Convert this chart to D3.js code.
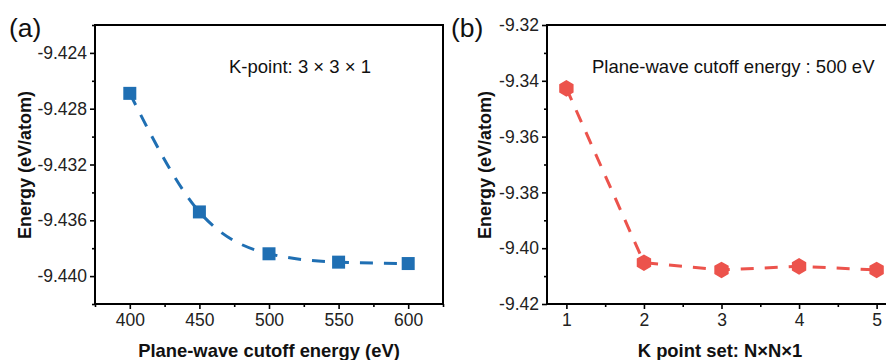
<!DOCTYPE html>
<html><head><meta charset="utf-8">
<script src="https://cdn.jsdelivr.net/npm/d3@7"></script>
<style>body{margin:0;background:#fff}svg{display:block;font-family:"Liberation Sans",Arial,sans-serif}</style>
</head><body><svg id="c" width="886" height="360"></svg>
<script>
// Panel (a)
const cutoffs = [400, 450, 500, 550, 600];
const energyA = [-9.4269, -9.4354, -9.4384, -9.4390, -9.4391];
const xTicksA = [400, 450, 500, 550, 600];
const yTicksA = [-9.424, -9.428, -9.432, -9.436, -9.440];
// Panel (b)
const kpoints = [1, 2, 3, 4, 5];
const energyB = [-9.3427, -9.4052, -9.4078, -9.4065, -9.4078];
const xTicksB = [1, 2, 3, 4, 5];
const yTicksB = [-9.32, -9.34, -9.36, -9.38, -9.40, -9.42];

const svg = d3.select("#c");
const blue = "#1f6fb3", red = "#ec534c";

function panel(o) {
  const g = svg.append("g");
  const x = d3.scaleLinear().domain(o.xd).range([o.left, o.right]);
  const y = d3.scaleLinear().domain(o.yd).range([o.bottom, o.top]);
  const fy = v => v.toFixed(o.dec).replace("\u2212", "-");
  const xMinor = d3.axisBottom(x).tickValues(o.xMinor).tickSize(3).tickFormat("");
  const yMinor = d3.axisLeft(y).tickValues(o.yMinor).tickSize(3).tickFormat("");
  g.append("g").attr("transform", `translate(0,${o.bottom})`).call(xMinor);
  g.append("g").attr("transform", `translate(${o.left},0)`).call(yMinor);
  const xa = d3.axisBottom(x).tickValues(o.xTicks).tickSize(5).tickPadding(5).tickFormat(d3.format("d"));
  const ya = d3.axisLeft(y).tickValues(o.yTicks).tickSize(5).tickPadding(3).tickFormat(fy);
  g.append("g").attr("transform", `translate(0,${o.bottom})`).call(xa);
  g.append("g").attr("transform", `translate(${o.left},0)`).call(ya);
  g.selectAll(".domain").remove();
  g.selectAll(".tick line").attr("stroke", "#000").attr("stroke-width", 1.6);
  g.selectAll(".tick text").attr("font-size", 17.5).attr("fill", "#222")
    .attr("font-family", '"Liberation Sans",Arial,sans-serif');
  g.append("rect").attr("x", o.left).attr("y", o.top)
    .attr("width", o.right - o.left).attr("height", o.bottom - o.top)
    .attr("fill", "none").attr("stroke", "#000").attr("stroke-width", 2);
  const line = d3.line().x(d => x(d[0])).y(d => y(d[1])).curve(o.curve);
  const pts = o.xs.map((v, i) => [v, o.ys[i]]);
  g.append("path").attr("d", line(pts)).attr("fill", "none")
    .attr("stroke", o.color).attr("stroke-width", 3).attr("stroke-dasharray", "13,11");
  if (o.marker === "square") {
    g.selectAll(".m").data(pts).join("rect")
      .attr("x", d => x(d[0]) - 6.5).attr("y", d => y(d[1]) - 6.5)
      .attr("width", 13).attr("height", 13).attr("fill", o.color);
  } else {
    const r = 8.3;
    const hex = d3.range(6).map(k => {
      const a = Math.PI / 3 * k - Math.PI / 2;
      return [r * Math.cos(a), r * Math.sin(a)];
    });
    g.selectAll(".m").data(pts).join("path")
      .attr("d", "M" + hex.map(p => p.join(",")).join("L") + "Z")
      .attr("transform", d => `translate(${x(d[0])},${y(d[1])})`)
      .attr("fill", o.color);
  }
  g.append("text").attr("x", o.xTitleX).attr("y", 357)
    .attr("text-anchor", "middle").attr("font-weight", "bold").attr("font-size", 18.4)
    .attr("fill", "#111").text(o.xTitle);
  g.append("text").attr("transform", `translate(${o.yTitleX},165) rotate(-90)`)
    .attr("text-anchor", "middle").attr("font-weight", "bold").attr("font-size", 18)
    .attr("fill", "#111").text("Energy (eV/atom)");
  g.append("text").attr("x", o.annX).attr("y", 73).attr("font-size", 18.5)
    .attr("fill", "#111").attr("xml:space", "preserve").text(o.ann);
  g.append("text").attr("x", o.labX).attr("y", 37).attr("font-size", 26.5)
    .attr("fill", "#111").text(o.lab);
}

panel({
  left: 95, right: 443, top: 25, bottom: 304,
  xd: [375, 625], yd: [-9.442, -9.422],
  xTicks: xTicksA, yTicks: yTicksA,
  xMinor: [375, 425, 475, 525, 575, 625], yMinor: [-9.442, -9.438, -9.434, -9.430, -9.426, -9.422],
  dec: 3, xs: cutoffs, ys: energyA, color: blue, marker: "square",
  curve: d3.curveMonotoneX,
  xTitle: "Plane-wave cutoff energy (eV)", xTitleX: 269, yTitleX: 31,
  ann: "K-point: 3 \u00d7 3 \u00d7 1", annX: 229, lab: "(a)", labX: 9
});
panel({
  left: 547, right: 896, top: 25, bottom: 304,
  xd: [0.75, 5.25], yd: [-9.42, -9.32],
  xTicks: xTicksB, yTicks: yTicksB,
  xMinor: [1.5, 2.5, 3.5, 4.5], yMinor: [-9.33, -9.35, -9.37, -9.39, -9.41],
  dec: 2, xs: kpoints, ys: energyB, color: red, marker: "hex",
  curve: d3.curveLinear,
  xTitle: "K point set: N\u00d7N\u00d71", xTitleX: 720, yTitleX: 491,
  ann: "Plane-wave cutoff energy : 500 eV", annX: 592, lab: "(b)", labX: 451
});
</script></body></html>
